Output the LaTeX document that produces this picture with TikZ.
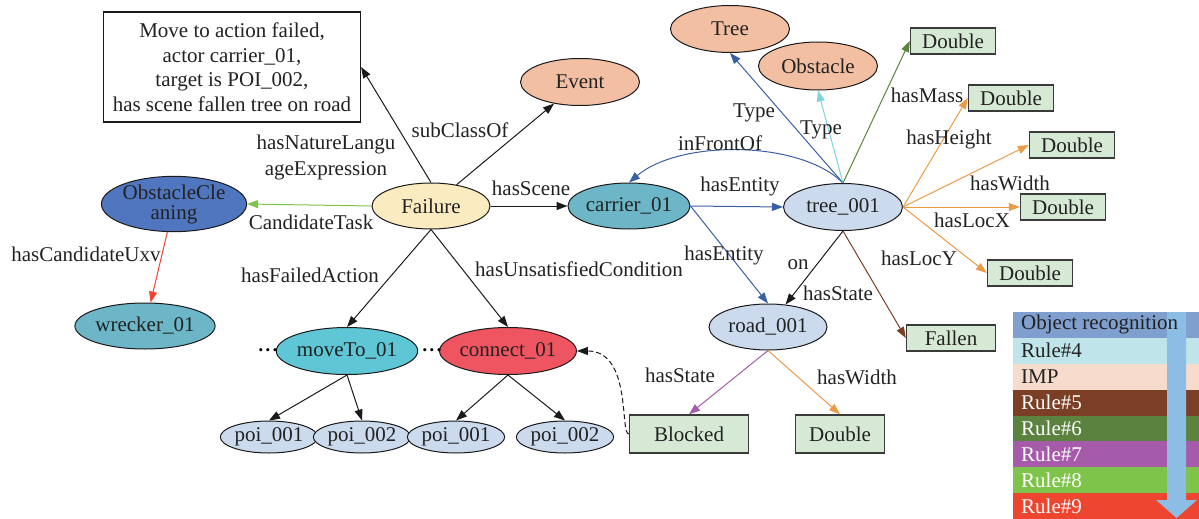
\documentclass[tikz,border=0pt]{standalone}
\usepackage{fontspec}
\setmainfont{Liberation Serif}
\usetikzlibrary{shapes.geometric,arrows.meta}

% node fills
\definecolor{txt}{HTML}{222222}
\definecolor{salmon}{HTML}{F2BFA3}
\definecolor{paleyellow}{HTML}{FBEBC0}
\definecolor{deepblue}{HTML}{4F76BF}
\definecolor{teal}{HTML}{6CB6C8}
\definecolor{aqua}{HTML}{5EC6D4}
\definecolor{coral}{HTML}{EF5461}
\definecolor{paleblue}{HTML}{CCDAEE}
\definecolor{boxgreen}{HTML}{D6E9D5}
\definecolor{boxedge}{HTML}{3A3A3A}
% edge colours
\definecolor{eblack}{HTML}{1A1A1A}
\definecolor{eblue}{HTML}{3B5FA3}
\definecolor{ecyan}{HTML}{7DD3DF}
\definecolor{egreen}{HTML}{5B823E}
\definecolor{eorange}{HTML}{EB9B45}
\definecolor{ebrown}{HTML}{7B3F25}
\definecolor{epurple}{HTML}{A55BAA}
\definecolor{elime}{HTML}{7EC34A}
\definecolor{ered}{HTML}{EE4530}
% legend colours
\definecolor{lgA}{HTML}{7F9FCF}
\definecolor{lgB}{HTML}{BFE4EA}
\definecolor{lgC}{HTML}{F7DCCD}
\definecolor{lgArrow}{HTML}{8CBDE5}

\newcommand{\bulletrow}{•\kern2.6pt•\kern2.6pt•}

\begin{document}
\begin{tikzpicture}[x=1pt,y=-1pt,
  font=\fontsize{21}{24}\selectfont,
  ell/.style={ellipse, draw=eblack, line width=1pt, inner sep=0pt,
    minimum width=119pt, minimum height=47pt, text=txt},
  poi/.style={ell, fill=paleblue, minimum width=88pt, minimum height=32pt},
  dbox/.style={rectangle, draw=boxedge, line width=1.4pt, fill=boxgreen,
    inner sep=0pt, minimum width=85pt, minimum height=26pt, text=txt},
  lbl/.style={inner sep=0pt, text=txt},
  dotrow/.style={inner sep=0pt, text=black, font=\fontsize{13}{13}\selectfont},
  edge/.style={line width=1pt, -{Triangle[length=11pt,width=8pt]}},
  legtext/.style={inner sep=0pt, anchor=west}]

\useasboundingbox (0,0) rectangle (1199,519);

% ---- nodes ----
\node[rectangle, draw=eblack, line width=1.2pt, fill=white, inner sep=0pt,
  minimum width=257pt, minimum height=110pt, align=center, text=txt,
  font=\fontsize{21}{24.5}\selectfont] (desc) at (232,67)
  {Move to action failed,\\ actor carrier\_01,\\ target is POI\_002,\\ has scene fallen tree on road};
\node[ell, fill=salmon] (event) at (580,82) {Event};
\node[ell, fill=paleyellow, minimum width=118pt, minimum height=46pt] (fail) at (431,206) {Failure};
\node[ell, fill=deepblue, minimum width=130pt, minimum height=51pt, align=center,
  font=\fontsize{21}{20}\selectfont] (oc) at (174,204) {ObstacleCle\\aning};
\node[ell, fill=teal, minimum height=46pt] (carrier) at (629,206) {carrier\_01};
\node[ell, fill=paleblue] (tree) at (843,207) {tree\_001};
\node[ell, fill=salmon] (treeT) at (730,29) {Tree};
\node[ell, fill=salmon, minimum height=48pt] (obst) at (818,66) {Obstacle};
\node[dbox] (d1) at (953,41) {Double};
\node[dbox] (d2) at (1011,98) {Double};
\node[dbox] (d3) at (1072,145) {Double};
\node[dbox] (d4) at (1063,207) {Double};
\node[dbox] (d5) at (1030,273) {Double};
\node[dbox, minimum width=89pt] (fallen) at (951,338) {Fallen};
\node[ell, fill=paleblue, minimum width=118pt, minimum height=46pt] (road) at (768,327) {road\_001};
\node[dbox, minimum width=119pt, minimum height=38pt] (blocked) at (689,434) {Blocked};
\node[dbox, minimum width=89pt, minimum height=38pt] (dw) at (840,434) {Double};
\node[ell, fill=coral] (connect) at (508,351) {connect\_01};
\node[ell, fill=aqua] (move) at (347,351) {moveTo\_01};
\node[ell, fill=teal, minimum height=46pt] (wrecker) at (145,326) {wrecker\_01};
\node[poi] (p1) at (269,437) {poi\_001};
\node[poi] (p2) at (362,437) {poi\_002};
\node[poi] (p3) at (456,437) {poi\_001};
\node[poi] (p4) at (565,437) {poi\_002};
\node[dotrow] (dotsA) at (268,352) {\bulletrow};
\node[dotrow] (dotsB) at (432,352) {\bulletrow};

% ---- edges ----
\draw[edge, eblack] (fail.north) -- (desc.east);
\draw[edge, eblack] (fail) -- (event);
\draw[edge, eblack] (fail.east) -- (carrier.west);
\draw[edge, elime] (fail.west) -- (oc.east);
\draw[edge, ered] (oc) -- (wrecker);
\draw[edge, eblack] (fail.south) -- (move.north);
\draw[edge, eblack] (fail.south) -- (connect.north);
\draw[edge, eblack] (move.south) -- (p1.north);
\draw[edge, eblack] (move.south) -- (p2.north);
\draw[edge, eblack] (connect.south) -- (p3.north);
\draw[edge, eblack] (connect.south) -- (p4.north);
\draw[edge, eblue] (carrier.east) -- (tree.west);
\draw[edge, eblue] (carrier.east) -- (road.north);
\draw[edge, eblue] (tree.north) .. controls +(-43,-43) and +(51,-43) .. (carrier.north);
\draw[edge, eblue] (tree.north) -- (treeT.south);
\draw[edge, ecyan] (tree.north) -- (obst.south);
\draw[edge, egreen] (tree.north) -- (d1.west);
\draw[edge, eorange] (tree.east) -- (d2.west);
\draw[edge, eorange] (tree.east) -- (d3.west);
\draw[edge, eorange] (tree.east) -- (d4.west);
\draw[edge, eorange] (tree.east) -- (d5.west);
\draw[edge, ebrown] (tree.south) -- (fallen.west);
\draw[edge, eblack] (tree.south) -- (road);
\draw[edge, epurple] (road.south) -- (blocked.north);
\draw[edge, eorange] (road.south) -- (dw.north);
\draw[edge, eblack, dash pattern=on 5pt off 3pt]
  (blocked.west) .. controls +(-9,0) and +(55,0) .. (connect.east);

% ---- edge labels ----
\node[lbl, align=center, font=\fontsize{21}{26}\selectfont] (lNat) at (326,157) {hasNatureLangu\\ageExpression};
\node[lbl] (lSub) at (460,130) {subClassOf};
\node[lbl] (lScene) at (531,188) {hasScene};
\node[lbl] (lCand) at (311,222) {CandidateTask};
\node[lbl] (lUxv) at (86,254) {hasCandidateUxv};
\node[lbl] (lFail) at (310,275) {hasFailedAction};
\node[lbl] (lUns) at (579,269) {hasUnsatisfiedCondition};
\node[lbl] (lEnt1) at (740,186) {hasEntity};
\node[lbl] (lEnt2) at (724,255) {hasEntity};
\node[lbl] (lFront) at (720,143) {inFrontOf};
\node[lbl] (lType1) at (754,113) {Type};
\node[lbl] (lType2) at (821,130) {Type};
\node[lbl] (lMass) at (927,95) {hasMass};
\node[lbl] (lHeight) at (949,139) {hasHeight};
\node[lbl] (lWidth) at (1010,183) {hasWidth};
\node[lbl] (lLocX) at (972,220) {hasLocX};
\node[lbl] (lLocY) at (919,258) {hasLocY};
\node[lbl] (lOn) at (798,265) {on};
\node[lbl] (lState1) at (838,293) {hasState};
\node[lbl] (lState2) at (680,375) {hasState};
\node[lbl] (lWidth2) at (857,377) {hasWidth};

% ---- rule order legend ----
\fill[lgA]    (1013,312.0) rectangle (1199,337.9);
\fill[lgB]    (1013,337.9) rectangle (1199,363.8);
\fill[lgC]    (1013,363.8) rectangle (1199,389.6);
\fill[ebrown] (1013,389.6) rectangle (1199,415.5);
\fill[egreen] (1013,415.5) rectangle (1199,441.4);
\fill[epurple](1013,441.4) rectangle (1199,467.3);
\fill[elime]  (1013,467.3) rectangle (1199,493.1);
\fill[ered]   (1013,493.1) rectangle (1199,519.0);
\fill[lgArrow] (1167,312) -- (1186,312) -- (1186,500) -- (1197,500)
  -- (1176.5,518) -- (1156,500) -- (1167,500) -- cycle;
\node[legtext, text=txt] (lg1) at (1021,324.9) {Object recognition};
\node[legtext, text=txt] (lg2) at (1021,350.8) {Rule\#4};
\node[legtext, text=txt] (lg3) at (1021,376.7) {IMP};
\node[legtext, text=white] (lg4) at (1021,402.5) {Rule\#5};
\node[legtext, text=white] (lg5) at (1021,428.4) {Rule\#6};
\node[legtext, text=white] (lg6) at (1021,454.3) {Rule\#7};
\node[legtext, text=white] (lg7) at (1021,480.2) {Rule\#8};
\node[legtext, text=white] (lg8) at (1021,506.1) {Rule\#9};
\end{tikzpicture}
\end{document}
